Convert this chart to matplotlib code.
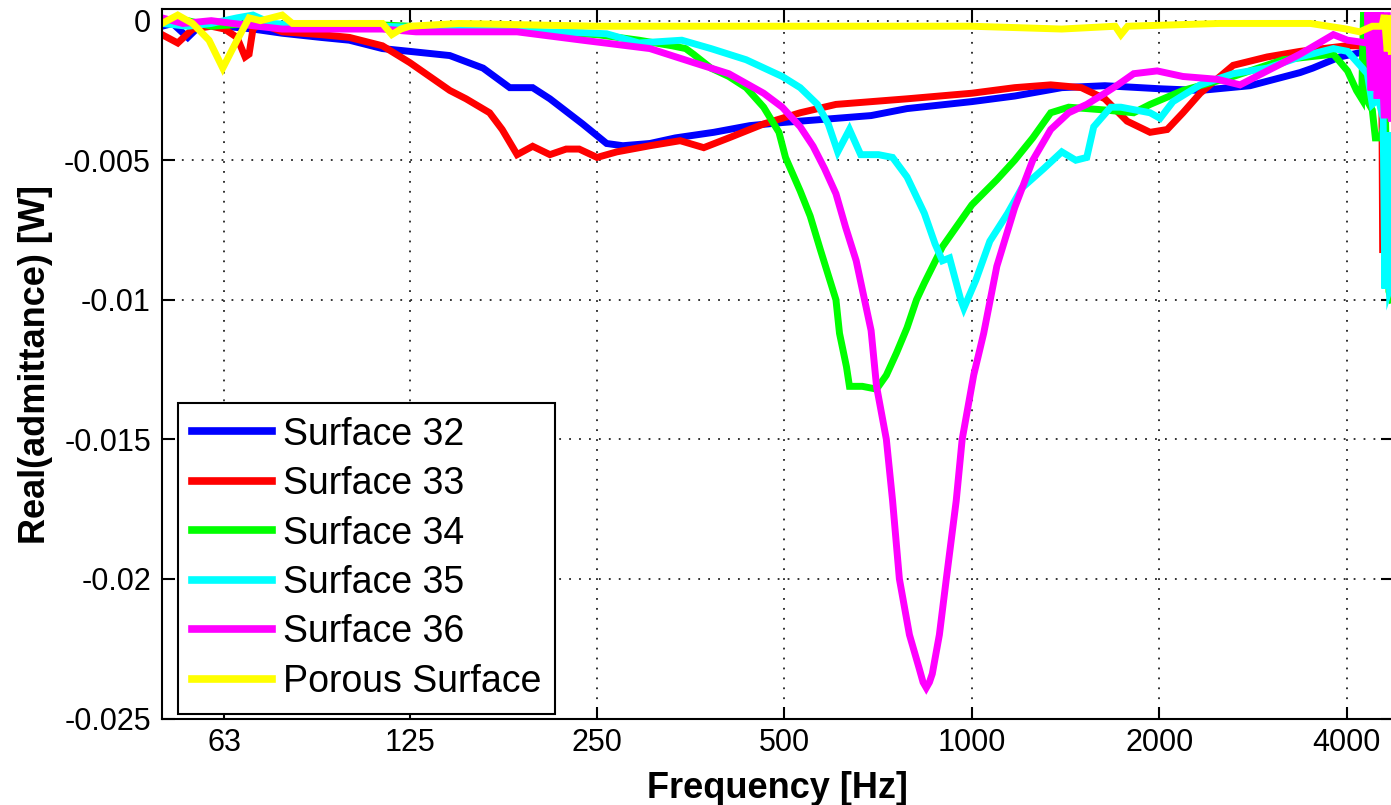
import matplotlib
matplotlib.use("Agg")
import matplotlib.pyplot as plt
from matplotlib.ticker import FixedLocator, NullLocator, FixedFormatter

plt.rcParams["font.family"] = ["Liberation Sans", "DejaVu Sans"]

# x ticks (octave bands) and y ticks
xtick_vals = [63, 125, 250, 500, 1000, 2000, 4000]
xtick_labels = ["63", "125", "250", "500", "1000", "2000", "4000"]
ytick_vals = [0, -0.005, -0.01, -0.015, -0.02, -0.025]
ytick_labels = ["0", "-0.005", "-0.01", "-0.015", "-0.02", "-0.025"]

labels = ["Surface 32", "Surface 33", "Surface 34", "Surface 35", "Surface 36", "Porous Surface"]
colors = ["#0000ff", "#ff0000", "#00ff00", "#00ffff", "#ff00ff", "#ffff00"]

# Surface 32
s32_freq = [50, 52, 55, 58, 63, 70, 78, 90, 100, 113, 125, 145, 164, 181, 197, 210, 237, 259,
            275, 304, 334, 385, 440, 496, 605, 689, 787, 1000, 1172, 1395, 1636, 2007, 2328,
            2800, 3368, 3530, 3900, 4300, 4720]
s32_val = [-0.0002, -0.0001, -0.0006, -0.0001, -0.0002, -0.0003, -0.00045, -0.0006, -0.0007,
           -0.0010, -0.0011, -0.00125, -0.0017, -0.0024, -0.0024, -0.0028, -0.0037, -0.0044,
           -0.00448, -0.0044, -0.0042, -0.0040, -0.00376, -0.00365, -0.0035, -0.0034, -0.00315,
           -0.0029, -0.0027, -0.0024, -0.00233, -0.00244, -0.0025, -0.00233, -0.00186, -0.0017,
           -0.0013, -0.0011, -0.0010]

# Surface 33
s33_freq = [50, 53, 56, 60, 63, 66, 68, 69, 70, 72, 78, 90, 100, 113, 125, 145, 154, 168, 176,
            186, 197, 210, 223, 234, 250, 269, 304, 340, 371, 407, 463, 530, 605, 787, 1000,
            1172, 1339, 1500, 1636, 1776, 1934, 2060, 2184, 2328, 2630, 2982, 3368, 4000, 4400,
            4560, 4572]
s33_val = [-0.0005, -0.0008, -0.0003, -0.0002, -0.0003, -0.0006, -0.0013, -0.0012, -0.0003,
           -0.0001, -0.0004, -0.0005, -0.0006, -0.0009, -0.0015, -0.0025, -0.0028, -0.0033,
           -0.0039, -0.0048, -0.0045, -0.0048, -0.0046, -0.0046, -0.0049, -0.0047, -0.00448,
           -0.0043, -0.00455, -0.0042, -0.0037, -0.0033, -0.0030, -0.0028, -0.0026, -0.0024,
           -0.0023, -0.0024, -0.0028, -0.0036, -0.0040, -0.0039, -0.0033, -0.0026, -0.0016,
           -0.0013, -0.0011, -0.0009, -0.0009, -0.0033, -0.0082]

# Surface 34
s34_freq = [50, 55, 60, 70, 80, 100, 125, 160, 200, 250, 292, 330, 347, 357, 381, 407, 434,
            463, 490, 502, 530, 550, 571, 605, 613, 629, 636, 667, 703, 729, 757, 787, 815,
            839, 897, 1000, 1097, 1172, 1253, 1339, 1431, 1636, 1820, 1934, 2184, 2630, 3163,
            3810, 4015, 4150, 4230, 4260, 4300, 4400, 4450, 4540, 4620, 4680, 4720]
s34_val = [-0.0001, 0.0, -0.0002, -0.0001, -0.0002, -0.0001, -0.0002, -0.0003, -0.0004,
           -0.0005, -0.0007, -0.0009, -0.0010, -0.0012, -0.0017, -0.0020, -0.0024, -0.0031,
           -0.0040, -0.0049, -0.0061, -0.0070, -0.0082, -0.0100, -0.0112, -0.0124, -0.0131,
           -0.0131, -0.0132, -0.0127, -0.0119, -0.0110, -0.0100, -0.0094, -0.0081, -0.0066,
           -0.0057, -0.0050, -0.0042, -0.0033, -0.0031, -0.0032, -0.0033, -0.0030, -0.0025,
           -0.0020, -0.0014, -0.0012, -0.0018, -0.0025, -0.0028, 0.0003, -0.0028, -0.0032,
           -0.0042, -0.0042, -0.0035, -0.0097, -0.0100]

# Surface 35
s35_freq = [50, 55, 60, 66, 70, 75, 90, 113, 150, 200, 237, 259, 292, 342, 381, 434, 496, 530,
            565, 588, 609, 636, 663, 708, 746, 787, 839, 873, 897, 921, 960, 971, 1015, 1069,
            1142, 1203, 1305, 1395, 1469, 1530, 1570, 1672, 1736, 1934, 2007, 2105, 2328, 2630,
            2982, 3368, 3810, 4015, 4320, 4400, 4500, 4580, 4610, 4650, 4690, 4720]
s35_val = [-0.0001, -0.0002, -0.0001, 0.0001, 0.0002, -0.0001, -0.0002, -0.0002, -0.0003,
           -0.0004, -0.00043, -0.00047, -0.0008, -0.0007, -0.0010, -0.0014, -0.0020, -0.0024,
           -0.0030, -0.0037, -0.0047, -0.0039, -0.0048, -0.0048, -0.0049, -0.0056, -0.0069,
           -0.0080, -0.0086, -0.0085, -0.0100, -0.0103, -0.0093, -0.0079, -0.0069, -0.0060,
           -0.0053, -0.0047, -0.0050, -0.0049, -0.0038, -0.0031, -0.0031, -0.0033, -0.0035,
           -0.0029, -0.0023, -0.0019, -0.0017, -0.0013, -0.0010, -0.0011, -0.0019, -0.0030,
           -0.0028, -0.0035, -0.0096, -0.0040, -0.0096, -0.0094]

# Surface 36
s36_freq = [50, 54, 60, 65, 78, 113, 128, 186, 237, 304, 357, 407, 463, 496, 530, 556, 580,
            605, 627, 652, 689, 703, 729, 746, 765, 794, 823, 835, 845, 855, 864, 887, 910, 944,
            965, 1007, 1045, 1097, 1172, 1253, 1339, 1431, 1530, 1636, 1716, 1820, 1985, 2184,
            2478, 2698, 2982, 3368, 3810, 4015, 4320, 4330, 4380, 4430, 4480, 4530, 4600, 4650,
            4720]
s36_val = [0.0001, -0.0001, 0.0, -0.0001, -0.0003, -0.0003, -0.0004, -0.0004, -0.0007, -0.0010,
           -0.0015, -0.0019, -0.0026, -0.0031, -0.0038, -0.0045, -0.0053, -0.0062, -0.0074,
           -0.0086, -0.0111, -0.0131, -0.0150, -0.0172, -0.0200, -0.0220, -0.0232, -0.0237,
           -0.0239, -0.0237, -0.0234, -0.0220, -0.0200, -0.0172, -0.0150, -0.0127, -0.0112,
           -0.0088, -0.0067, -0.0050, -0.0039, -0.0033, -0.0030, -0.0026, -0.0023, -0.0019,
           -0.0018, -0.0020, -0.0021, -0.0023, -0.0018, -0.0012, -0.0005, -0.0007, -0.0008,
           0.0003, -0.0025, 0.0003, -0.0028, 0.0003, -0.0035, 0.0003, -0.0035]

# Porous surface
porous_freq = [50, 53, 56, 59.5, 62.6, 66, 69, 72, 78, 81, 88.6, 100, 113, 117, 121, 125, 150,
               250, 500, 800, 1000, 1395, 1700, 1736, 1780, 2500, 3500, 4000, 4200, 4400, 4560,
               4600, 4650, 4690, 4720]
porous_val = [-0.0001, 0.0002, -0.0001, -0.0007, -0.0017, -0.0007, 0.0001, 0.0, 0.0002, -0.0001,
              -0.0001, -0.0001, -0.0001, -0.0005, -0.0003, -0.0002, -0.0001, -0.0002, -0.0002,
              -0.0002, -0.0002, -0.0003, -0.0002, -0.0005, -0.0002, -0.0001, -0.0001, -0.0003,
              -0.0004, -0.0002, -0.0002, 0.0002, -0.0011, 0.0002, -0.0011]

series = [
    (s32_freq, s32_val),
    (s33_freq, s33_val),
    (s34_freq, s34_val),
    (s35_freq, s35_val),
    (s36_freq, s36_val),
    (porous_freq, porous_val),
]

fig = plt.figure(figsize=(13.91, 8.05), dpi=100)
ax = fig.add_axes([0.11646, 0.10745, 0.88497, 0.88075])

for (f, v), lab, col in zip(series, labels, colors):
    ax.plot(f, v, color=col, linewidth=5, label=lab, solid_joinstyle="miter")

ax.set_xscale("log")
ax.set_xlim(50, 4750)
ax.set_ylim(-0.025, 0.0004)

ax.xaxis.set_major_locator(FixedLocator(xtick_vals))
ax.xaxis.set_major_formatter(FixedFormatter(xtick_labels))
ax.xaxis.set_minor_locator(NullLocator())
ax.set_yticks(ytick_vals)
ax.set_yticklabels(ytick_labels)

ax.grid(True, which="major", color="#222222", linestyle=(0, (1, 4.5)), linewidth=1.3)
ax.set_axisbelow(True)

ax.tick_params(axis="both", which="major", direction="in", length=9, width=1.5,
               labelsize=22, top=True, right=True, colors="black")
ax.tick_params(axis="x", pad=7)
ax.tick_params(axis="y", pad=8)

for spine in ax.spines.values():
    spine.set_linewidth(1.5)
    spine.set_color("black")

ax.set_xlabel("Frequency [Hz]", fontsize=26, fontweight="bold", labelpad=9)
ax.set_ylabel("Real(admittance) [W]", fontsize=26, fontweight="bold", labelpad=8)

leg = ax.legend(loc="upper left", bbox_to_anchor=(178 / 1391, 1 - 403 / 805),
                bbox_transform=fig.transFigure, borderaxespad=0, fontsize=27,
                handlelength=2.15, handletextpad=0.3, labelspacing=0.36, borderpad=0.36,
                fancybox=False, framealpha=1, edgecolor="black")
leg.get_frame().set_linewidth(1.5)
for line in leg.get_lines():
    line.set_linewidth(5.5)

fig.savefig("out.png", dpi=100)
